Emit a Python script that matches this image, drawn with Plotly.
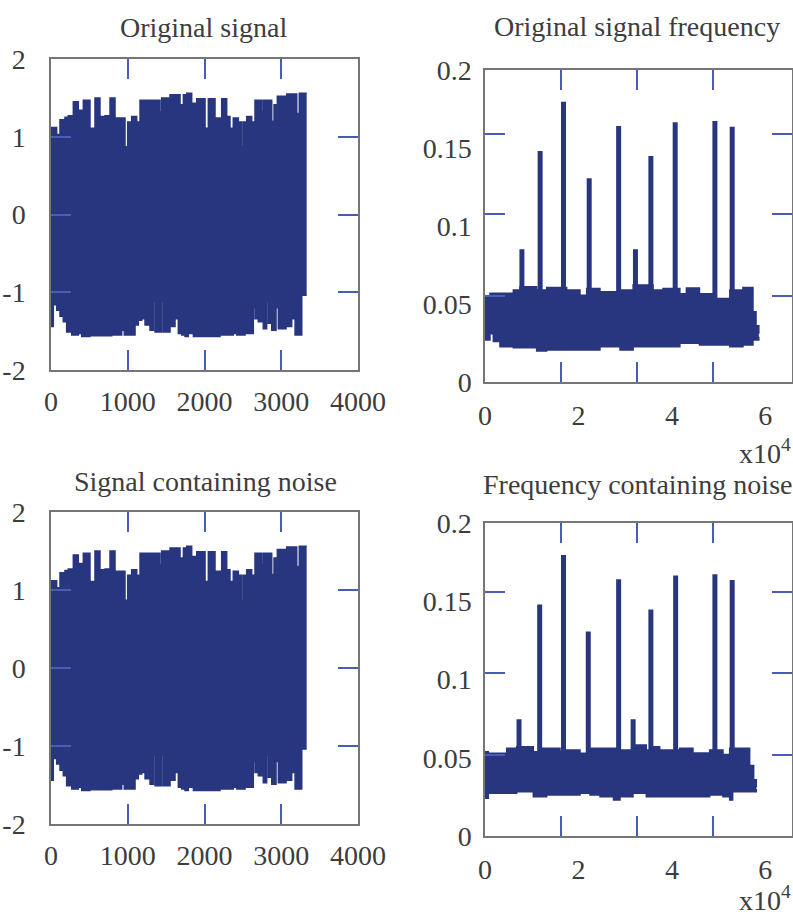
import plotly.graph_objects as go

# ---------------- data ----------------
sig_up_x = [0, 74, 117, 182, 225, 291, 356, 421, 508, 573, 638, 704, 769, 834, 964, 999,
            1051, 1117, 1160, 1420, 1442, 1551, 1681, 1725, 1768, 1833, 1899, 2007, 2050,
            2137, 2224, 2289, 2332, 2375, 2441, 2485, 2506, 2550, 2615, 2658, 2745, 2766,
            2876, 2906, 2949, 3071, 3202, 3235, 3331]
sig_up_y = [1.12, 1.03, 1.22, 1.25, 1.27, 1.45, 1.34, 1.47, 1.11, 1.50, 1.26, 1.27, 1.50,
            1.24, 0.87, 1.19, 1.26, 1.19, 1.47, 1.32, 1.50, 1.54, 1.41, 1.54, 1.56, 1.43,
            1.49, 1.11, 1.49, 1.24, 1.49, 1.26, 1.11, 1.24, 1.19, 0.87, 1.19, 1.26, 1.19,
            1.47, 1.32, 1.47, 1.20, 1.41, 1.52, 1.55, 1.30, 1.56, 1.56]
sig_lo_x = [0, 30, 74, 117, 160, 204, 270, 356, 400, 508, 791, 921, 955, 1095, 1138, 1182,
            1225, 1290, 1334, 1355, 1442, 1463, 1551, 1616, 1659, 1703, 1746, 1789, 1855,
            2007, 2202, 2375, 2420, 2528, 2636, 2658, 2701, 2766, 2810, 2831, 2876, 2932,
            2962, 3062, 3136, 3180, 3267, 3331]
sig_lo_y = [-1.44, -1.16, -1.23, -1.31, -1.38, -1.51, -1.55, -1.53, -1.57, -1.56, -1.55,
            -1.49, -1.55, -1.42, -1.36, -1.34, -1.42, -1.49, -1.12, -1.51, -1.12, -1.51,
            -1.44, -1.34, -1.53, -1.55, -1.57, -1.53, -1.57, -1.57, -1.55, -1.53, -1.55,
            -1.53, -1.20, -1.34, -1.38, -1.47, -1.12, -1.40, -1.49, -1.20, -1.47, -1.44,
            -1.34, -1.55, -1.04, -1.04]
noisy_up_x, noisy_up_y = sig_up_x, sig_up_y
noisy_lo_x, noisy_lo_y = sig_lo_x, sig_lo_y

f1_up_x = [0, 0.107, 0.606, 0.749, 1.106, 1.32, 1.748, 2.033, 2.176, 2.46, 2.89, 3.17,
           3.595, 3.81, 4.17, 4.31, 4.59, 4.88, 5.24, 5.52, 5.735, 5.80, 5.86]
f1_up_y = [0.0547, 0.0569, 0.059, 0.061, 0.059, 0.0605, 0.059, 0.0556, 0.060, 0.0579,
           0.059, 0.0622, 0.059, 0.060, 0.0566, 0.0603, 0.0566, 0.0536, 0.059, 0.0605,
           0.045, 0.036, 0.031]
f1_lo_x = [0, 0.107, 0.178, 0.32, 0.606, 1.106, 1.32, 2.46, 2.89, 3.17, 4.17, 4.59, 5.24,
           5.52, 5.735, 5.86]
f1_lo_y = [0.027, 0.031, 0.026, 0.0226, 0.022, 0.0199, 0.0205, 0.0226, 0.0205, 0.0226,
           0.0248, 0.0237, 0.0226, 0.0237, 0.0269, 0.029]
f1_peak_x = [0.79, 1.18, 1.68, 2.23, 2.86, 3.22, 3.55, 4.07, 4.92, 5.29]
f1_peak_y = [0.0851, 0.148, 0.1797, 0.1306, 0.1641, 0.0851, 0.1449, 0.1665, 0.1673, 0.1637]

f2_up_x = [0, 0.071, 0.464, 0.678, 1.034, 1.177, 1.605, 1.748, 2.033, 2.247, 2.461, 2.889,
           3.167, 3.452, 3.595, 3.738, 4.166, 4.451, 4.808, 5.093, 5.236, 5.45, 5.664,
           5.75, 5.806]
f2_up_y = [0.0539, 0.0528, 0.056, 0.0571, 0.0539, 0.056, 0.054, 0.055, 0.0528, 0.056,
           0.056, 0.055, 0.0581, 0.055, 0.0571, 0.055, 0.056, 0.053, 0.055, 0.052, 0.056,
           0.056, 0.045, 0.036, 0.031]
f2_lo_x = [0, 0.071, 0.678, 1.034, 1.32, 2.033, 2.247, 2.461, 2.75, 2.889, 3.167, 3.452,
           4.808, 5.093, 5.236, 5.30, 5.806]
f2_lo_y = [0.0241, 0.0273, 0.0283, 0.0251, 0.0262, 0.0273, 0.0262, 0.0251, 0.023, 0.0251,
           0.0273, 0.0251, 0.0262, 0.0251, 0.023, 0.0283, 0.030]
f2_peak_x = [0.728, 1.17, 1.68, 2.21, 2.86, 3.17, 3.55, 4.08, 4.92, 5.29]
f2_peak_y = [0.0746, 0.148, 0.1795, 0.1306, 0.164, 0.0746, 0.1448, 0.1664, 0.1672, 0.1636]
peak_base = 0.04

titles = ["Original signal", "Original signal frequency",
          "Signal containing noise", "Frequency containing noise"]
time_ticks = [0, 1000, 2000, 3000, 4000]
amp_ticks = [-2, -1, 0, 1, 2]
amp_text = ["-2", "-1", "0", "1", "2"]
freq_ticks = [0, 2, 4, 6]
mag_ticks = [0, 0.05, 0.1, 0.15, 0.2]
mag_text = ["0", "0.05", "0.1", "0.15", "0.2"]
freq_minor = [1.626, 3.253, 4.879]
mag_minor_1 = [0.0553, 0.1075, 0.159]
mag_minor_2 = [0.052, 0.104, 0.156]

BLUE = "#28367f"
TICKBLUE = "#4a5cb8"
FRAME = "#767676"
TXT = "#3d3d3d"
FONT = "Liberation Serif"
FS = 28

fig = go.Figure()


def envelope(xa, ya, up_x, up_y, lo_x, lo_y):
    fig.add_trace(go.Scatter(x=lo_x, y=lo_y, mode="lines", line=dict(color=BLUE, width=1.5, shape="hv"),
                             xaxis=xa, yaxis=ya, showlegend=False, hoverinfo="skip"))
    fig.add_trace(go.Scatter(x=up_x, y=up_y, mode="lines", line=dict(color=BLUE, width=1.5, shape="hv"),
                             fill="tonexty", fillcolor=BLUE,
                             xaxis=xa, yaxis=ya, showlegend=False, hoverinfo="skip"))


def peaks(xa, ya, px, py):
    xs, ys = [], []
    for a, b in zip(px, py):
        xs += [a, a, None]
        ys += [peak_base, b, None]
    fig.add_trace(go.Scatter(x=xs, y=ys, mode="lines", line=dict(color=BLUE, width=5),
                             xaxis=xa, yaxis=ya, showlegend=False, hoverinfo="skip"))


envelope("x", "y", sig_up_x, sig_up_y, sig_lo_x, sig_lo_y)
envelope("x2", "y2", f1_up_x, f1_up_y, f1_lo_x, f1_lo_y)
peaks("x2", "y2", f1_peak_x, f1_peak_y)
envelope("x3", "y3", noisy_up_x, noisy_up_y, noisy_lo_x, noisy_lo_y)
envelope("x4", "y4", f2_up_x, f2_up_y, f2_lo_x, f2_lo_y)
peaks("x4", "y4", f2_peak_x, f2_peak_y)

W, H = 793, 915


def dom_x(a, b):
    return [a / W, b / W]


def dom_y(top, bot):
    return [1 - bot / H, 1 - top / H]


base_axis = dict(showline=True, linecolor=FRAME, linewidth=1.5, mirror="ticks", automargin=False,
                 showgrid=False, zeroline=False, tickfont=dict(family=FONT, size=FS, color=TXT),
                 fixedrange=True)

time_x = dict(base_axis, range=[0, 4000], tickmode="array", tickvals=time_ticks,
              ticks="inside", ticklen=20, tickcolor=TICKBLUE, tickwidth=1.5, ticklabelstandoff=6)
amp_y = dict(base_axis, range=[-2, 2], tickmode="array", tickvals=amp_ticks, ticktext=amp_text,
             ticks="inside", ticklen=20, tickcolor=TICKBLUE, tickwidth=1.5, ticklabelstandoff=18)


def freq_x():
    return dict(base_axis, range=[0, 6.57], tickmode="array", tickvals=freq_ticks, ticks="",
                ticklabelstandoff=8,
                minor=dict(tickmode="array", tickvals=freq_minor, ticks="inside", ticklen=20,
                           tickcolor=TICKBLUE, tickwidth=1.5))


def mag_y(minor_vals):
    return dict(base_axis, range=[0, 0.2], tickmode="array", tickvals=mag_ticks, ticktext=mag_text,
                ticks="", ticklabelstandoff=6,
                minor=dict(tickmode="array", tickvals=minor_vals, ticks="inside", ticklen=20,
                           tickcolor=TICKBLUE, tickwidth=1.5))


fig.update_layout(
    width=W, height=H, margin=dict(l=0, r=0, t=0, b=0, pad=0, autoexpand=False), autosize=False,
    paper_bgcolor="white", plot_bgcolor="white", showlegend=False,
    font=dict(family=FONT, size=FS, color=TXT),
    xaxis=dict(time_x, domain=dom_x(51, 358), anchor="y"),
    yaxis=dict(amp_y, domain=dom_y(59, 370), anchor="x"),
    xaxis2=dict(freq_x(), domain=dom_x(485, 792), anchor="y2"),
    yaxis2=dict(mag_y(mag_minor_1), domain=dom_y(70, 382), anchor="x2"),
    xaxis3=dict(time_x, domain=dom_x(51, 358), anchor="y3"),
    yaxis3=dict(amp_y, domain=dom_y(512, 824), anchor="x3"),
    xaxis4=dict(freq_x(), domain=dom_x(485, 792), anchor="y4"),
    yaxis4=dict(mag_y(mag_minor_2), domain=dom_y(523, 836), anchor="x4"),
)

title_pos = [(203, 28), (637, 27), (205, 482), (637, 484)]
for t, (cx, cy) in zip(titles, title_pos):
    fig.add_annotation(text=t, x=cx / W, y=1 - cy / H, xref="paper", yref="paper",
                       xanchor="center", yanchor="middle", showarrow=False,
                       font=dict(family=FONT, size=FS, color=TXT))

for cy in (452, 898):
    fig.add_annotation(text="x10<sup>4</sup>", x=1.0, y=1 - cy / H, xref="paper", yref="paper",
                       xanchor="right", yanchor="middle", showarrow=False,
                       font=dict(family=FONT, size=FS, color=TXT))

fig.write_html("out.html")
